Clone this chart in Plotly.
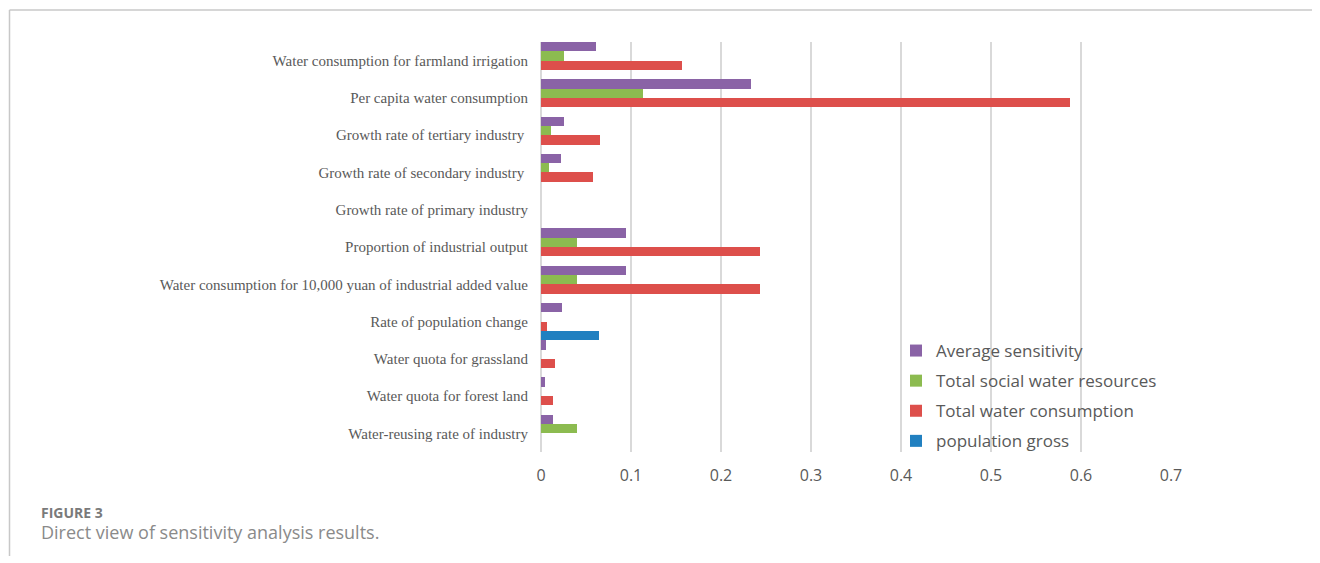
import plotly.graph_objects as go

categories = [
    "Water consumption for farmland irrigation",
    "Per capita water consumption",
    "Growth rate of tertiary industry ",
    "Growth rate of secondary industry ",
    "Growth rate of primary industry",
    "Proportion of industrial output",
    "Water consumption for 10,000 yuan of industrial added value",
    "Rate of population change",
    "Water quota for grassland",
    "Water quota for forest land",
    "Water-reusing rate of industry",
]

average_sensitivity = [0.061, 0.233, 0.025, 0.022, 0, 0.094, 0.094, 0.023, 0.005, 0.004, 0.013]
total_social_water = [0.025, 0.113, 0.011, 0.009, 0, 0.040, 0.040, 0, 0, 0, 0.040]
total_water_consumption = [0.157, 0.588, 0.066, 0.058, 0, 0.243, 0.243, 0.0067, 0.016, 0.013, 0]
population_gross = [0, 0, 0, 0, 0, 0, 0, 0.064, 0, 0, 0]

series_names = ["Average sensitivity", "Total social water resources",
                "Total water consumption", "population gross"]
series_values = [average_sensitivity, total_social_water, total_water_consumption, population_gross]
series_colors = ["#8A63A6", "#8CBB50", "#DD4F4B", "#2180C0"]

x_ticks = [0, 0.1, 0.2, 0.3, 0.4, 0.5, 0.6, 0.7]

# figure is drawn inside the page's default 8px body margin
W, H = 1312, 555
PL, PR, PT, PB = 533, 1163, 34, 444  # plot area in figure pixels
PW, PH = PR - PL, PB - PT


def px(x):
    return (x - PL) / PW


def py(y):
    return (PB - y) / PH


fig = go.Figure()
for name, vals, col in zip(series_names, series_values, series_colors):
    fig.add_trace(go.Bar(
        y=categories, x=vals, name=name, orientation="h",
        marker=dict(color=col, line=dict(width=0)),
        legendgroup=name,
    ))

fig.update_layout(
    width=W, height=H,
    margin=dict(l=PL, r=W - PR, t=PT, b=H - PB, pad=0),
    paper_bgcolor="white", plot_bgcolor="white",
    barmode="group", bargap=0.0, bargroupgap=0.0,
    showlegend=True,
    legend=dict(
        x=px(888), y=py(325), xanchor="left", yanchor="top",
        font=dict(family="Open Sans", size=17, color="#595959"),
        traceorder="grouped", tracegroupgap=5,
        bgcolor="rgba(0,0,0,0)", itemwidth=30,
    ),
    xaxis=dict(
        range=[0, 0.7], tickvals=x_ticks, ticktext=[str(t) for t in x_ticks],
        showgrid=True, gridcolor="#D9D9D9", gridwidth=2,
        zeroline=True, zerolinecolor="#D9D9D9", zerolinewidth=2,
        showline=False, ticks="",
        tickfont=dict(family="Open Sans", size=16, color="#595959"),
        ticklabelstandoff=12,
    ),
    yaxis=dict(
        autorange="reversed", showgrid=False, showline=False, ticks="",
        tickfont=dict(family="Liberation Serif", size=15, color="#595959"),
        ticklabelstandoff=12,
    ),
    shapes=[
        dict(type="line", xref="paper", yref="paper",
             x0=px(1.5), x1=px(1320),
             y0=py(2), y1=py(2),
             line=dict(color="#C8C8C8", width=1.5)),
        dict(type="line", xref="paper", yref="paper",
             x0=px(1.5), x1=px(1.5),
             y0=py(2), y1=py(548),
             line=dict(color="#C8C8C8", width=1.5)),
    ],
    annotations=[
        dict(text="<b>FIGURE 3</b>", xref="paper", yref="paper",
             x=px(31), y=py(505), xanchor="left", yanchor="middle",
             showarrow=False, font=dict(family="Open Sans", size=14, color="#7A7A7A")),
        dict(text="Direct view of sensitivity analysis results.", xref="paper", yref="paper",
             x=px(31), y=py(524), xanchor="left", yanchor="middle",
             showarrow=False, font=dict(family="Open Sans", size=18, color="#8A8A8A")),
    ],
)

fig.write_html("out.html")
